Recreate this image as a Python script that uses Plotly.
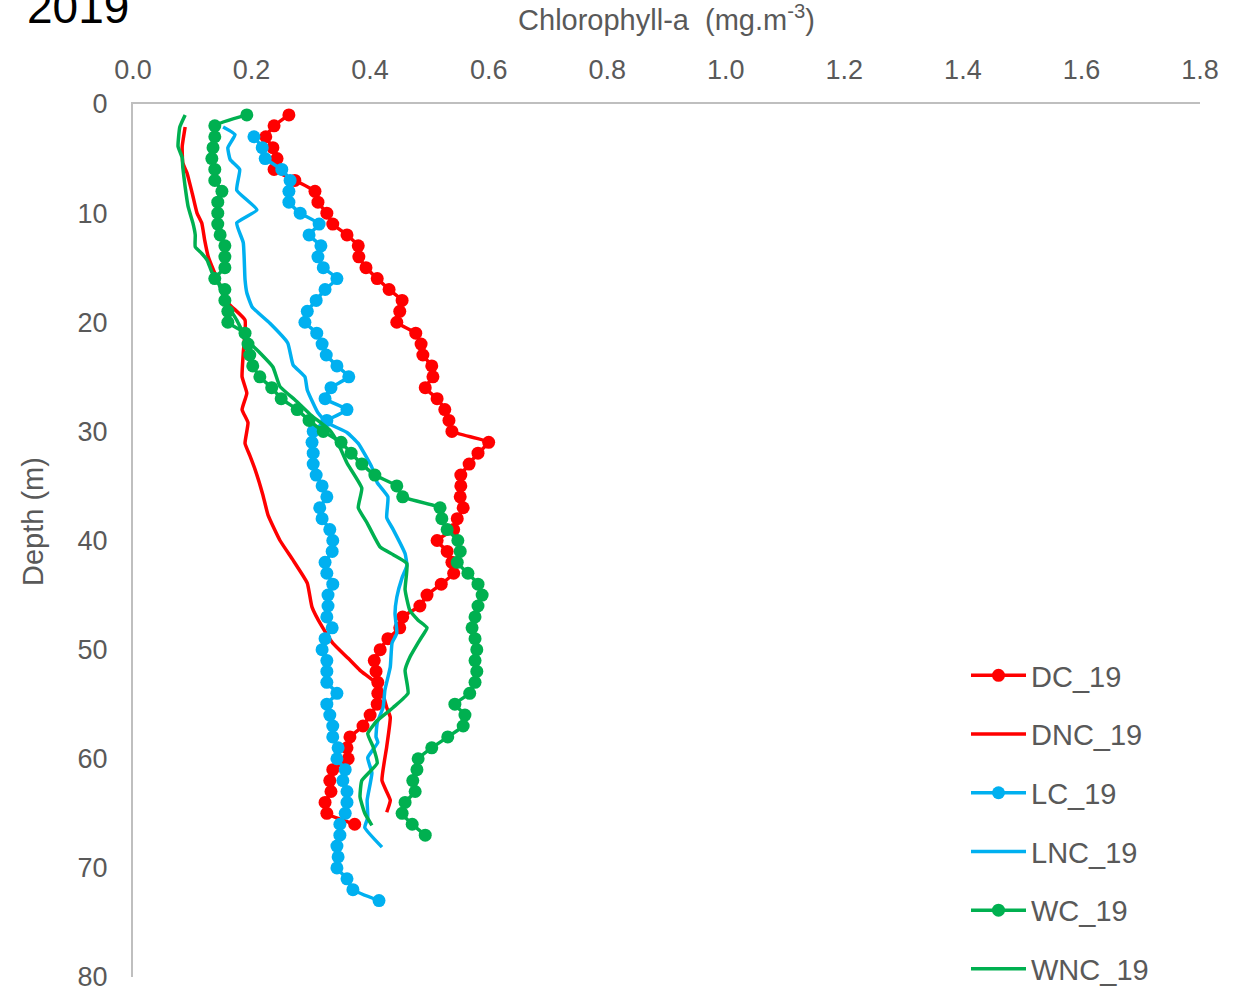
import plotly.graph_objects as go

# ---------------- data ----------------
dc_depth = list(range(1, 67))
dc_chl = [0.263, 0.238, 0.224, 0.236, 0.243, 0.238, 0.273, 0.307, 0.312, 0.327,
          0.337, 0.361, 0.380, 0.381, 0.393, 0.412, 0.432, 0.454, 0.450, 0.445,
          0.477, 0.486, 0.489, 0.504, 0.506, 0.493, 0.513, 0.526, 0.533, 0.538,
          0.600, 0.582, 0.567, 0.553, 0.553, 0.552, 0.557, 0.547, 0.541, 0.513,
          0.530, 0.538, 0.541, 0.520, 0.496, 0.484, 0.455, 0.450, 0.430, 0.417,
          0.407, 0.410, 0.413, 0.413, 0.412, 0.400, 0.388, 0.366, 0.361, 0.363,
          0.337, 0.332, 0.334, 0.324, 0.327, 0.374]

dnc_depth = [2.1, 3.9, 5.4, 6.3, 8.2, 10.0, 10.9, 12.5, 14.0, 15.5, 18.2, 19.8,
             22.8, 25.0, 26.5, 28.0, 29.2, 31.1, 32.2, 33.5, 35.8, 37.7, 40.0,
             41.8, 43.9, 46.1, 47.9, 49.4, 50.8, 51.9, 53.4, 55.3, 56.2, 58.9,
             62.0, 63.8, 64.9]
dnc_chl = [0.088, 0.083, 0.084, 0.091, 0.100, 0.108, 0.116, 0.121, 0.127, 0.138,
           0.160, 0.189, 0.186, 0.184, 0.192, 0.184, 0.194, 0.189, 0.197, 0.206,
           0.219, 0.228, 0.248, 0.270, 0.294, 0.302, 0.319, 0.337, 0.363, 0.383,
           0.417, 0.428, 0.434, 0.428, 0.420, 0.434, 0.428]

lc_depth = list(range(3, 74))
lc_chl = [0.204, 0.218, 0.223, 0.251, 0.265, 0.263, 0.263, 0.282, 0.314, 0.297,
          0.317, 0.312, 0.321, 0.344, 0.324, 0.309, 0.294, 0.290, 0.310, 0.319,
          0.326, 0.344, 0.364, 0.334, 0.324, 0.361, 0.327, 0.304, 0.302, 0.304,
          0.304, 0.309, 0.319, 0.327, 0.315, 0.319, 0.332, 0.337, 0.336, 0.324,
          0.327, 0.337, 0.329, 0.329, 0.327, 0.336, 0.324, 0.319, 0.327, 0.327,
          0.327, 0.344, 0.327, 0.332, 0.337, 0.337, 0.346, 0.344, 0.358, 0.354,
          0.361, 0.361, 0.358, 0.349, 0.349, 0.344, 0.346, 0.344, 0.361, 0.371,
          0.415]

lnc_depth = [2.1, 2.8, 4.0, 5.1, 6.0, 7.9, 9.7, 10.9, 12.7, 16.1, 17.3, 18.6,
             20.1, 21.9, 23.9, 25.0, 26.2, 28.3, 29.2, 30.1, 31.1, 33.3, 34.7,
             36.0, 37.9, 39.0, 41.2, 42.3, 43.4, 45.2, 46.7, 48.5, 49.4, 51.6,
             53.7, 55.3, 56.7, 58.0, 58.5, 59.9, 61.3, 63.8, 65.4, 66.3, 68.1]
lnc_chl = [0.152, 0.172, 0.160, 0.164, 0.180, 0.175, 0.209, 0.175, 0.186, 0.189,
           0.192, 0.201, 0.231, 0.261, 0.270, 0.290, 0.294, 0.312, 0.327, 0.361,
           0.380, 0.403, 0.412, 0.430, 0.428, 0.439, 0.459, 0.462, 0.454, 0.445,
           0.442, 0.445, 0.437, 0.434, 0.425, 0.422, 0.412, 0.410, 0.413, 0.396,
           0.403, 0.395, 0.396, 0.391, 0.420]

wc_depth = list(range(1, 68))
wc_chl = [0.192, 0.138, 0.138, 0.135, 0.133, 0.138, 0.138, 0.150, 0.143, 0.143,
          0.143, 0.147, 0.155, 0.155, 0.155, 0.138, 0.155, 0.155, 0.160, 0.160,
          0.189, 0.194, 0.197, 0.202, 0.214, 0.234, 0.250, 0.277, 0.297, 0.321,
          0.351, 0.368, 0.386, 0.408, 0.445, 0.455, 0.518, 0.521, 0.530, 0.548,
          0.552, 0.547, 0.565, 0.582, 0.589, 0.582, 0.577, 0.572, 0.577, 0.580,
          0.577, 0.580, 0.577, 0.568, 0.543, 0.560, 0.557, 0.531, 0.504, 0.481,
          0.479, 0.472, 0.476, 0.459, 0.454, 0.471, 0.493]

wnc_depth = [1.0, 2.1, 3.9, 4.9, 5.8, 7.6, 9.4, 10.9, 12.0, 13.1, 13.7, 14.3,
             15.4, 16.1, 18.0, 19.8, 21.6, 22.8, 24.1, 25.9, 27.1, 28.5, 29.9,
             31.1, 32.9, 35.2, 37.0, 38.4, 40.6, 41.3, 42.1, 44.5, 46.4, 47.3,
             48.0, 49.1, 50.7, 51.9, 54.0, 55.3, 56.5, 57.7, 58.9, 60.4, 62.0,
             63.5, 65.0, 66.1]
wnc_chl = [0.088, 0.079, 0.076, 0.083, 0.084, 0.088, 0.093, 0.101, 0.105, 0.105,
           0.116, 0.125, 0.133, 0.142, 0.155, 0.175, 0.192, 0.214, 0.236, 0.248,
           0.273, 0.300, 0.332, 0.346, 0.361, 0.386, 0.380, 0.395, 0.417, 0.439,
           0.462, 0.459, 0.467, 0.481, 0.496, 0.484, 0.467, 0.459, 0.464, 0.439,
           0.412, 0.396, 0.405, 0.412, 0.386, 0.383, 0.391, 0.403]

series_names = ["DC_19", "DNC_19", "LC_19", "LNC_19", "WC_19", "WNC_19"]
x_ticks = [0.0, 0.2, 0.4, 0.6, 0.8, 1.0, 1.2, 1.4, 1.6, 1.8]
y_ticks = [0, 10, 20, 30, 40, 50, 60, 70, 80]

RED = "#ff0000"
BLUE = "#00b0f0"
GREEN = "#00b050"
FONT = "Liberation Sans, Arial, sans-serif"
GREY_TXT = "#595959"

series = [
    (series_names[0], dc_chl, dc_depth, RED, True),
    (series_names[1], dnc_chl, dnc_depth, RED, False),
    (series_names[2], lc_chl, lc_depth, BLUE, True),
    (series_names[3], lnc_chl, lnc_depth, BLUE, False),
    (series_names[4], wc_chl, wc_depth, GREEN, True),
    (series_names[5], wnc_chl, wnc_depth, GREEN, False),
]

fig = go.Figure()
for i, (name, xs, ys, col, mk) in enumerate(series):
    fig.add_trace(go.Scatter(
        x=xs, y=ys, name=name,
        mode="lines+markers" if mk else "lines",
        line=dict(color=col, width=3.5, shape="spline", smoothing=0.4),
        marker=dict(color=col, size=13) if mk else None,
        legendgroup=f"g{i}",
    ))

PW, PH = 1067, 873  # plot area size in px

fig.update_layout(
    width=1234, height=992,
    margin=dict(l=133, r=34, t=104, b=15, autoexpand=False),
    paper_bgcolor="white", plot_bgcolor="white",
    font=dict(family=FONT, color=GREY_TXT, size=27),
    showlegend=True,
    legend=dict(
        x=(966 - 133) / PW, xanchor="left", y=(977 - 650) / PH, yanchor="top",
        font=dict(size=29, color=GREY_TXT, family=FONT),
        traceorder="grouped", tracegroupgap=18,
        bgcolor="rgba(0,0,0,0)", itemwidth=55,
    ),
    xaxis=dict(
        side="top", range=[0, 1.8], tickvals=x_ticks, tickformat=".1f",
        showgrid=False, zeroline=False,
        showline=True, linecolor="#bfbfbf", linewidth=2,
        ticks="outside", ticklen=12, tickcolor="rgba(0,0,0,0)",
        tickfont=dict(size=27, color=GREY_TXT, family=FONT),
        ticklabeloverflow="allow",
        title=dict(text="Chlorophyll-a  (mg.m<sup>-3</sup>)", standoff=18,
                   font=dict(size=29, color=GREY_TXT, family=FONT)),
    ),
    yaxis=dict(
        range=[80, 0], tickvals=y_ticks,
        showgrid=False, zeroline=False,
        showline=True, linecolor="#bfbfbf", linewidth=2,
        ticks="outside", ticklen=18, tickcolor="rgba(0,0,0,0)",
        tickfont=dict(size=27, color=GREY_TXT, family=FONT),
        ticklabeloverflow="allow",
    ),
    annotations=[
        dict(
            text="2019", xref="paper", yref="paper",
            x=(25 - 133) / PW, y=1 + (104 - 7) / PH,
            xanchor="left", yanchor="middle", showarrow=False,
            font=dict(size=46, color="black", family=FONT),
        ),
        dict(
            text="Depth (m)", xref="paper", yref="paper", textangle=-90,
            x=(33 - 133) / PW, y=(977 - 522) / PH,
            xanchor="center", yanchor="middle", showarrow=False,
            font=dict(size=29, color=GREY_TXT, family=FONT),
        ),
    ],
)

fig.write_html("out.html")
